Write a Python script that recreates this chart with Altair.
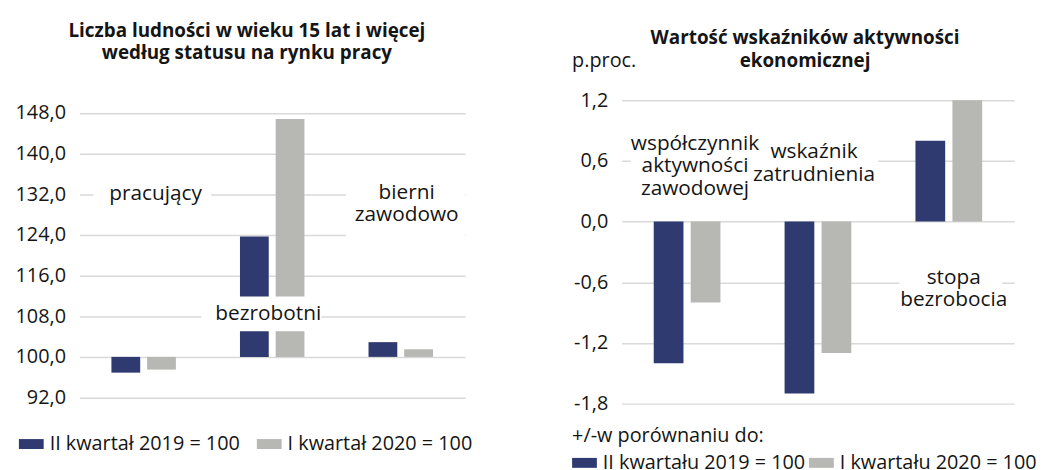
import altair as alt
import pandas as pd

# ---------------- data ----------------
left_categories = ["pracujący", "bezrobotni", "bierni zawodowo"]
left_series = ["II kwartał 2019 = 100", "I kwartał 2020 = 100"]
left_q2_2019 = [96.9, 123.7, 102.9]
left_q1_2020 = [97.5, 146.8, 101.5]
left_ticks = [92, 100, 108, 116, 124, 132, 140, 148]
left_base = 100
left_title = ["Liczba ludności w wieku 15 lat i więcej", "według statusu na rynku pracy"]
left_labels = ["pracujący", "bezrobotni", "bierni\nzawodowo"]
left_label_y = [132.0, 108.5, 132.3]

right_categories = ["współczynnik aktywności zawodowej", "wskaźnik zatrudnienia", "stopa bezrobocia"]
right_series = ["II kwartału 2019 = 100", "I kwartału 2020 = 100"]
right_q2_2019 = [-1.4, -1.7, 0.8]
right_q1_2020 = [-0.8, -1.3, 1.2]
right_ticks = [-1.8, -1.2, -0.6, 0.0, 0.6, 1.2]
right_title = ["Wartość wskaźników aktywności", "ekonomicznej"]
right_labels = ["współczynnik\naktywności\nzawodowej", "wskaźnik\nzatrudnienia", "stopa\nbezrobocia"]
right_label_y = [0.77, 0.69, -0.555]
right_unit = "p.proc."
right_legend_title = "+/-w porównaniu do:"

# ---------------- style ----------------
NAVY = "#2f3a70"
GRAY = "#b7b7b3"
TEXT = "#151515"
GRID = "#d9d9d9"
FONT = "Open Sans"
FS = 20
LFS = 21
TFS = 19

MINUS = "\u2212"
LABEL_EXPR = "replace(replace(format(datum.value, '.1f'), '.', ','), '" + MINUS + "', '-')"


def bars_df(cats, series, a, b, base):
    return pd.DataFrame({
        "cat": cats + cats,
        "series": [series[0]] * len(cats) + [series[1]] * len(cats),
        "value": a + b,
        "base": [base] * (2 * len(cats)),
    })


def panel(cats, series, a, b, base, ticks, domain, width, height,
          xo_pad_inner, xo_pad_outer, legend, labels, label_y, label_dx,
          boxes, texts):
    df = bars_df(cats, series, a, b, base)
    x = alt.X("cat:N", sort=cats, axis=None,
              scale=alt.Scale(paddingInner=0, paddingOuter=0))
    y = alt.Y("value:Q", title=None,
              scale=alt.Scale(domain=domain, nice=False, zero=False),
              axis=alt.Axis(values=ticks, labelExpr=LABEL_EXPR, grid=True))
    bars = alt.Chart(df).mark_bar().encode(
        x=x,
        xOffset=alt.XOffset("series:N", sort=series,
                            scale=alt.Scale(paddingInner=xo_pad_inner,
                                            paddingOuter=xo_pad_outer)),
        y=y,
        y2="base:Q",
        color=alt.Color("series:N", sort=series,
                        scale=alt.Scale(domain=series, range=[NAVY, GRAY]),
                        legend=legend),
    )
    layers = [bars]
    # white label backgrounds
    for (x1, x2, y1, y2) in boxes:
        layers.append(
            alt.Chart(pd.DataFrame({"k": [0]})).mark_rect(fill="white").encode(
                x=alt.value(x1), x2=alt.value(x2), y=alt.value(y1), y2=alt.value(y2))
        )
    # category labels
    for c, lab, ly, dx in zip(cats, labels, label_y, label_dx):
        ldf = pd.DataFrame({"cat": [c], "lab": [lab], "y": [ly]})
        layers.append(
            alt.Chart(ldf).mark_text(font=FONT, fontSize=LFS, color=TEXT,
                                     lineBreak="\n", lineHeight=23,
                                     align="center", baseline="middle", dx=dx).encode(
                x=alt.X("cat:N", sort=cats, axis=None,
                        scale=alt.Scale(paddingInner=0, paddingOuter=0)),
                y=alt.Y("y:Q", scale=alt.Scale(domain=domain, nice=False, zero=False)),
                text="lab:N")
        )
    # titles / unit texts
    for (t, tx, ty, size, weight, align) in texts:
        layers.append(
            alt.Chart(pd.DataFrame({"t": [t]})).mark_text(
                font=FONT, fontSize=size, fontWeight=weight, color=TEXT,
                align=align, baseline="middle").encode(
                x=alt.value(tx), y=alt.value(ty), text="t:N")
        )
    return alt.layer(*layers).properties(width=width, height=height)


left_legend = alt.Legend(
    title=None, orient="none", legendX=-61, legendY=334, direction="horizontal",
    symbolType="M-1,-0.4H1V0.4H-1Z", symbolSize=625, symbolStrokeWidth=0,
    symbolOpacity=1, labelFont=FONT, labelFontSize=FS, labelColor=TEXT,
    labelOffset=6, columnPadding=16, labelLimit=400)

right_legend = alt.Legend(
    title=right_legend_title, orient="none", legendX=-50, legendY=329,
    direction="horizontal", titleFont=FONT, titleFontSize=FS,
    titleFontWeight="normal", titleColor=TEXT, titlePadding=4, titleAnchor="start",
    titleLimit=400,
    symbolType="M-1,-0.4H1V0.4H-1Z", symbolSize=625, symbolStrokeWidth=0,
    symbolOpacity=1, labelFont=FONT, labelFontSize=FS, labelColor=TEXT,
    labelOffset=6, columnPadding=3, labelLimit=400)

left = panel(
    left_categories, left_series, left_q2_2019, left_q1_2020, left_base,
    left_ticks, [90.8, 150.5], 389, 306, 0.194, 0.898, left_legend,
    left_labels, left_label_y, [12, -4, 6],
    boxes=[(14, 133, 83, 107), (123, 244, 198, 233), (269, 389, 75, 142)],
    texts=[(left_title[0], 169, -70, TFS, "bold", "center"),
           (left_title[1], 169, -48, TFS, "bold", "center")])

right = panel(
    right_categories, right_series, right_q2_2019, right_q1_2020, 0,
    right_ticks, [-1.8, 1.2], 396, 306, 0.196, 0.867, right_legend,
    right_labels, right_label_y, [8, -4, 5],
    boxes=[(9, 127, 28, 100), (127, 259, 38, 85), (280, 384, 165, 210)],
    texts=[(right_title[0], 185, -63, TFS, "bold", "center"),
           (right_title[1], 185, -40, TFS, "bold", "center"),
           (right_unit, -50, -40, FS, "normal", "left")])

chart = alt.hconcat(left, right, spacing=158, bounds="flush").resolve_scale(
    color="independent", xOffset="independent", x="independent", y="independent"
).properties(
    padding={"left": 7, "top": 12, "right": 5, "bottom": 10}
).configure_view(stroke=None).configure_axis(
    labelFont=FONT, labelFontSize=FS, labelColor=TEXT, domain=False, ticks=False,
    gridColor=GRID, gridWidth=1.5, labelPadding=14
)

chart.save("out.html", embed_options={"renderer": "svg", "actions": False})
